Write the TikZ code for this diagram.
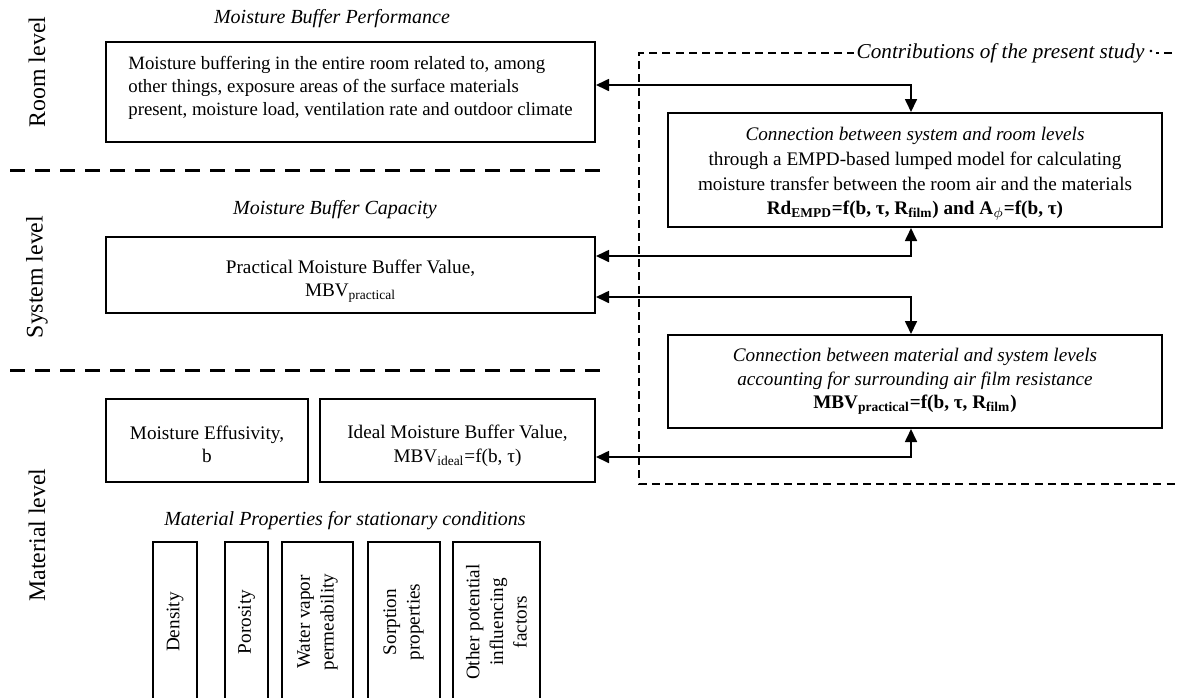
\documentclass[tikz,border=0pt]{standalone}
\usepackage{fontspec}
\setmainfont{Liberation Serif}
\usetikzlibrary{arrows.meta}
\newcommand\bodyfnt{\fontsize{9.6}{11.8}\selectfont}
\newcommand\lvlfnt{\fontsize{11.9}{13}\selectfont}
\begin{document}
\begin{tikzpicture}[x=0.5pt,y=-0.5pt,
  frame/.style={draw, line width=1pt, inner sep=0pt},
  txt/.style={inner sep=0pt, font=\bodyfnt, align=center},
  propbox/.style={draw, line width=1pt, inner sep=1pt, font=\bodyfnt, align=center,
     rotate=90, minimum width=80pt, anchor=center},
  ttl/.style={font=\fontsize{10}{12}\selectfont\itshape, inner sep=1pt},
  lvl/.style={font=\lvlfnt, rotate=90, inner sep=1pt},
  sep/.style={line width=1.5pt, dash pattern=on 7.5pt off 5pt},
  contrib/.style={line width=1.1pt, dash pattern=on 4pt off 2.6pt},
  dbl/.style={{Triangle[length=6.5pt,width=6pt]}-{Triangle[length=6.5pt,width=6pt]}, line width=0.85pt}]
\clip (0,0) rectangle (1177,697);
\useasboundingbox (0,0) rectangle (1177,697);

% level labels
\node[lvl] (lroom) at (37,72) {Room level};
\node[lvl] (lsys) at (37,277) {System level};
\node[lvl] (lmat) at (37,535) {Material level};

% separators
\coordinate (s1a) at (10,170); \coordinate (s1b) at (600,170);
\coordinate (s2a) at (10,370); \coordinate (s2b) at (600,370);
\draw[sep] (s1a) -- (s1b);
\draw[sep] (s2a) -- (s2b);

% titles
\node[ttl] (tperf) at (332,19) {Moisture Buffer Performance};
\node[ttl] (tcap) at (335,210) {Moisture Buffer Capacity};
\node[ttl] (tprop) at (345,521) {Material Properties for stationary conditions};

% left boxes
\node[frame, minimum width=244.5pt, minimum height=50pt] (room) at (350.5,92) {};
\node[txt, align=left, font=\fontsize{9.4}{11.6}\selectfont] (roomtxt) at (350.5,88)
  {Moisture buffering in the entire room related to, among\\other things, exposure areas of the surface materials\\present, moisture load, ventilation rate and outdoor climate};
\node[frame, minimum width=244.5pt, minimum height=38pt] (sys) at (350.5,275) {};
\node[txt] (systxt) at (350.5,281) {Practical Moisture Buffer Value,\\MBV\textsubscript{practical}};
\node[frame, minimum width=101pt, minimum height=41.5pt] (eff) at (207,440.5) {};
\node[txt] (efftxt) at (207,444.5) {Moisture Effusivity,\\b};
\node[frame, minimum width=137.5pt, minimum height=41.5pt] (ideal) at (457.5,440.5) {};
\node[txt] (idealtxt) at (457.5,446) {Ideal Moisture Buffer Value,\\MBV\textsubscript{ideal}=f(b, τ)};

% property boxes
\node[propbox, minimum height=22pt] (dens) at (175,622) {Density};
\node[propbox, minimum height=21.5pt] (poro) at (246.5,622) {Porosity};
\node[propbox, minimum height=35.5pt] (wvp) at (317.5,622) {Water vapor\\permeability};
\node[propbox, minimum height=36pt] (sorp) at (403.5,622) {Sorption\\properties};
\node[propbox, minimum height=43.5pt] (oth) at (496.5,622) {Other potential\\influencing\\factors};

% contributions frame
\coordinate (c1) at (1172,53); \coordinate (c2) at (639,53);
\coordinate (c3) at (639,484); \coordinate (c4) at (1177,484);
\draw[contrib] (c1) -- (c2) -- (c3) -- (c4);
\node[ttl, fill=white, font=\fontsize{10.6}{12}\selectfont\itshape, inner sep=1.5pt] (tcon) at (1005,53)
  {Contributions of the present study\,\textperiodcentered};

% right boxes
\node[frame, minimum width=247pt, minimum height=57pt] (boxA) at (915,170) {};
\node[txt, font=\fontsize{9.6}{12.3}\selectfont] (boxAtxt) at (915,174)
  {\textit{Connection between system and room levels}\\
   through a EMPD-based lumped model for calculating\\
   moisture transfer between the room air and the materials\\
   \textbf{Rd\textsubscript{EMPD}=f(b, τ, R\textsubscript{film}) and A\textsubscript{$\phi$}=f(b, τ)}};
\node[frame, minimum width=247pt, minimum height=46.5pt] (boxB) at (915,381.5) {};
\node[txt] (boxBtxt) at (915,381.5)
  {\textit{Connection between material and system levels}\\
   \textit{accounting for surrounding air film resistance}\\
   \textbf{MBV\textsubscript{practical}=f(b, τ, R\textsubscript{film})}};

% connectors
\coordinate (ax) at (911,0);
\coordinate (y1) at (0,85); \coordinate (y2) at (0,256);
\coordinate (y3) at (0,297); \coordinate (y4) at (0,457);
\draw[dbl] (room.east |- y1) -| (boxA.north -| ax);
\draw[dbl] (sys.east |- y2) -| (boxA.south -| ax);
\draw[dbl] (sys.east |- y3) -| (boxB.north -| ax);
\draw[dbl] (ideal.east |- y4) -| (boxB.south -| ax);
\end{tikzpicture}
\end{document}
